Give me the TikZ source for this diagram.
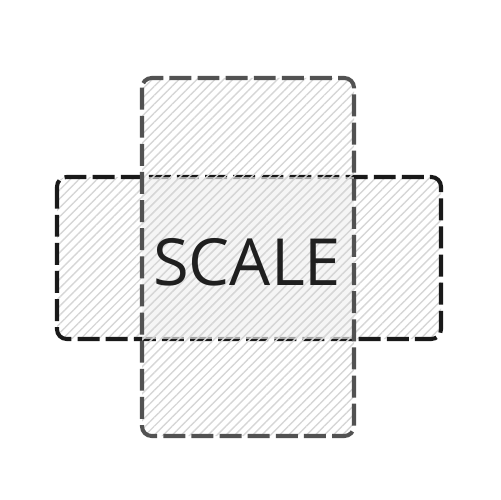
\documentclass[tikz,border=0pt]{standalone}
\usepackage{fontspec}
\setmainfont{Open Sans}
\usetikzlibrary{patterns.meta}

\tikzset{
    hatch/.style={pattern={Lines[angle=45,distance=3.6pt,line width=0.8pt]}, pattern color=black!16},
    frame/.style={line width=2.3pt, rounded corners=5.5pt, dash pattern=on 12.5pt off 3.5pt}
}

\begin{document}
\begin{tikzpicture}[x=0.02cm, y=-0.02cm]
    % Canvas
    \useasboundingbox (0,0) rectangle (500,500);

    % Wide box
    \draw[frame, black!90, hatch] (57,177) rectangle (441,339);

    % Overlap, lightened
    \fill[gray!12, opacity=0.65] (142,177) rectangle (354,339);

    % Tall box
    \draw[frame, black!68, hatch] (142,78) rectangle (354,436);

    % Label
    \node[text=black!88, font=\fontsize{37}{37}\selectfont] (label) at (247,262) {SCALE};
\end{tikzpicture}
\end{document}
